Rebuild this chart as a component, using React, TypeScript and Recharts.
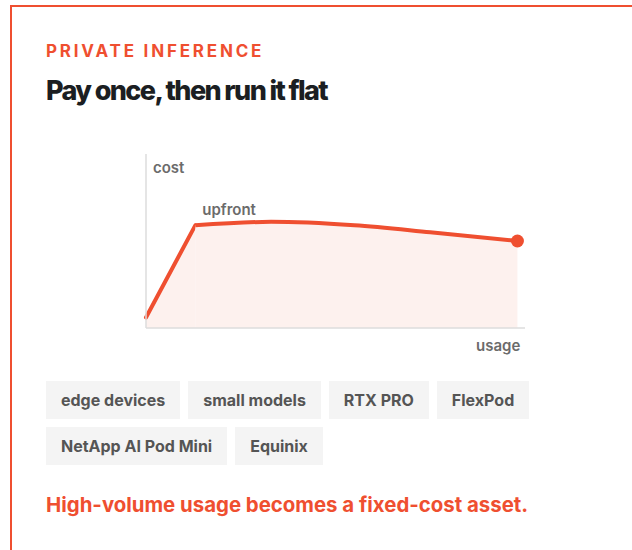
import React from 'react';
import { ComposedChart, Area, XAxis, YAxis } from 'recharts';

// usage axis (0..100) and relative cost
const usage = [0, 13, 33, 55, 75, 98];
const cost = [6, 59, 61, 59, 55, 50];
const tags = ['edge devices', 'small models', 'RTX PRO', 'FlexPod', 'NetApp AI Pod Mini', 'Equinix'];

const ORANGE = '#ef4f30';
const FILL = '#fdf1ee';

// ramp = straight climb to the upfront point, run = the flat-ish tail
const rows = usage.map((u, i) => ({
  usage: u,
  ramp: i <= 1 ? cost[i] : null,
  run: i >= 1 ? cost[i] : null,
}));

const UpfrontLabel = (props: any) => {
  const { x, y, index } = props;
  if (index !== 1) return null;
  return (
    <text x={x + 7} y={y - 10} fill="#6b6b6b" fontSize={15} fontWeight={600} fontFamily="Inter">
      upfront
    </text>
  );
};

const EndDot = (props: any) => {
  const { cx, cy, index } = props;
  if (index !== usage.length - 1) return <g key={`d-${index}`} />;
  return <circle key={`d-${index}`} cx={cx} cy={cy} r={6.5} fill={ORANGE} stroke="none" />;
};

export default function App() {
  return (
    <div style={{ position: 'fixed', inset: 0, overflow: 'hidden', background: '#fff', fontFamily: 'Inter, sans-serif' }}>
      <div
        style={{
          position: 'absolute',
          left: 10,
          top: 5,
          width: 700,
          height: 700,
          border: `2px solid ${ORANGE}`,
          boxSizing: 'border-box',
        }}
      >
        <div
          style={{
            position: 'absolute', left: 34, top: 34, fontSize: 17, lineHeight: '20px',
            fontWeight: 700, letterSpacing: 2.8, color: ORANGE, whiteSpace: 'nowrap',
          }}
        >
          PRIVATE INFERENCE
        </div>
        <div
          style={{
            position: 'absolute', left: 34, top: 68, fontSize: 27, lineHeight: '32px',
            fontWeight: 800, letterSpacing: -1.6, color: '#1b1e22', whiteSpace: 'nowrap',
          }}
        >
          Pay once, then run it flat
        </div>

        <div style={{ position: 'absolute', left: 88, top: 133 }}>
          <ComposedChart width={440} height={220} data={rows} margin={{ top: 14, right: 15, bottom: 31, left: 45 }}>
            <XAxis
              type="number"
              dataKey="usage"
              domain={[0, 100]}
              tick={false}
              tickLine={false}
              height={1}
              axisLine={{ stroke: '#dcdcdc', strokeWidth: 1.5 }}
            />
            <YAxis
              type="number"
              domain={[0, 100]}
              tick={false}
              tickLine={false}
              width={1}
              axisLine={{ stroke: '#dcdcdc', strokeWidth: 1.5 }}
            />
            <Area
              type="linear"
              dataKey="ramp"
              stroke={ORANGE}
              strokeWidth={4}
              strokeLinecap="round"
              fill={FILL}
              fillOpacity={1}
              dot={false}
              activeDot={false}
              label={UpfrontLabel}
              isAnimationActive={false}
            />
            <Area
              type="monotone"
              dataKey="run"
              stroke={ORANGE}
              strokeWidth={4}
              fill={FILL}
              fillOpacity={1}
              dot={EndDot}
              activeDot={false}
              isAnimationActive={false}
            />
          </ComposedChart>
          <div style={{ position: 'absolute', left: 53, top: 18, fontSize: 15, fontWeight: 600, color: '#6b6b6b' }}>cost</div>
          <div style={{ position: 'absolute', left: 376, top: 196, fontSize: 15, fontWeight: 600, color: '#6b6b6b' }}>usage</div>
        </div>

        <div
          style={{
            position: 'absolute', left: 34, top: 374, width: 500,
            display: 'flex', flexWrap: 'wrap', gap: 8,
          }}
        >
          {tags.map(t => (
            <div
              key={t}
              style={{
                background: '#f4f4f4', color: '#555', fontSize: 16, fontWeight: 700,
                height: 38, lineHeight: '38px', padding: '0 15px', whiteSpace: 'nowrap',
              }}
            >
              {t}
            </div>
          ))}
        </div>

        <div
          style={{
            position: 'absolute', left: 34, top: 486, fontSize: 20.4, lineHeight: '24px',
            fontWeight: 700, color: ORANGE, whiteSpace: 'nowrap',
          }}
        >
          High-volume usage becomes a fixed-cost asset.
        </div>
      </div>
    </div>
  );
}
